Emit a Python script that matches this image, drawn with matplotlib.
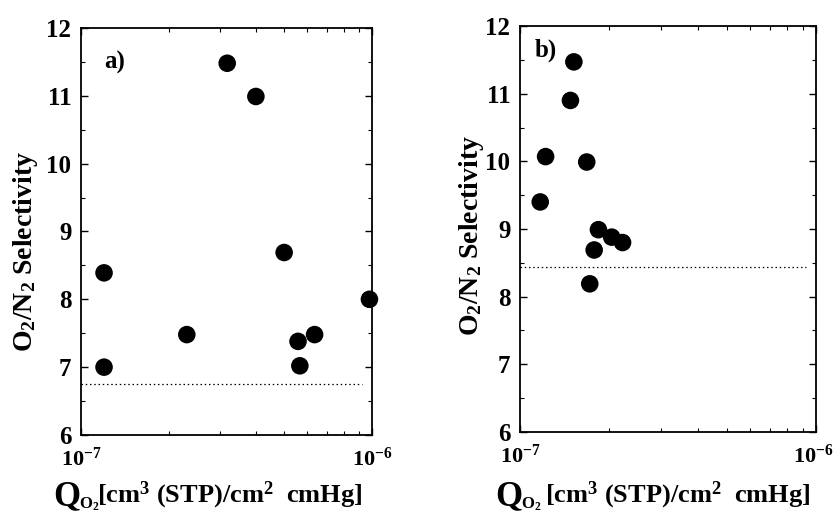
import matplotlib
matplotlib.use("Agg")
import matplotlib.pyplot as plt
import matplotlib.transforms as mtransforms
import numpy as np

plt.rcParams['font.family'] = ['Liberation Serif', 'DejaVu Serif']
plt.rcParams['font.weight'] = 'bold'
plt.rcParams['mathtext.fontset'] = 'custom'
plt.rcParams['mathtext.rm'] = 'Liberation Serif:bold'
plt.rcParams['mathtext.bf'] = 'Liberation Serif:bold'
plt.rcParams['mathtext.it'] = 'Liberation Serif:bold'

# Panel a data
qa = [1.20e-7, 1.20e-7, 2.31e-7, 3.18e-7, 3.99e-7, 4.99e-7, 5.57e-7, 5.65e-7, 6.35e-7, 9.8e-7]
sa = [8.39, 7.00, 7.48, 11.48, 10.99, 8.69, 7.38, 7.02, 7.48, 8.00]
ref_a = 6.75

# Panel b data
qb = [1.17e-7, 1.22e-7, 1.48e-7, 1.52e-7, 1.68e-7, 1.84e-7, 1.78e-7, 1.72e-7, 2.04e-7, 2.22e-7]
sb = [9.40, 10.07, 10.90, 11.47, 9.99, 8.99, 8.69, 8.19, 8.88, 8.80]
ref_b = 8.44

yticks = [6, 7, 8, 9, 10, 11, 12]
xticks = [1e-7, 1e-6]
xticklabels = [r'$10^{-7}$', r'$10^{-6}$']
ylabel_text = r'O$_2$/N$_2$ Selectivity'
xunit_text = '[cm$^3$ (STP)/cm$^2$  cmHg]'

W, H = 835, 516
fig = plt.figure(figsize=(W / 100, H / 100), dpi=100)
ax_a = fig.add_axes([0.097, 0.157, 0.3485, 0.7888])
ax_b = fig.add_axes([0.6228, 0.1628, 0.3545, 0.7868])


def px(x, y):
    return x / W, 1 - y / H


def style(ax, q, s, ref, tag, tagpos, ylab_pos, q_x, sub_x, unit_x):
    ax.scatter(q, s, s=160, color='black', zorder=3, edgecolors='none', clip_on=False)
    ax.axhline(ref, xmin=0.0, xmax=0.965, color='black', lw=0.9, ls=(0, (1.2, 2.2)))
    ax.set_xscale('log')
    ax.set_xlim(1e-7, 1e-6)
    ax.set_ylim(6, 12)
    ax.set_yticks(yticks)
    ax.set_yticklabels([str(t) for t in yticks], fontsize=18, fontweight='bold')
    ax.set_yticks(np.arange(6.5, 12, 1.0), minor=True)
    ax.set_xticks(xticks)
    ax.set_xticklabels(xticklabels, fontsize=16)
    ax.set_xticks([k * 1e-7 for k in range(2, 10)], minor=True)
    ax.xaxis.set_minor_formatter(matplotlib.ticker.NullFormatter())
    ax.tick_params(which='both', direction='in', top=True, right=True)
    ax.tick_params(which='major', length=5, width=1.0)
    ax.tick_params(which='minor', length=3, width=0.8)
    ax.tick_params(axis='x', pad=9)
    ax.tick_params(axis='y', pad=7)
    for sp in ax.spines.values():
        sp.set_linewidth(1.3)
    lab = ax.set_ylabel(ylabel_text, fontsize=20, fontweight='bold')
    lab.set_rotation_mode('default')
    lab.set_va('center')
    lab.set_ha('center')
    ax.yaxis.set_label_coords(*ylab_pos)
    ax.text(tagpos[0], tagpos[1], tag, transform=ax.transAxes, fontsize=18,
            fontweight='bold', ha='left', va='center')
    # x label pieces: large Q, small subscript O2, then bracketed unit
    fig.text(*px(q_x, 505), 'Q', fontsize=25, fontweight='bold', ha='left', va='baseline')
    fig.text(*px(sub_x, 509), r'O$_2$', fontsize=12, fontweight='bold', ha='left', va='baseline')
    fig.text(*px(unit_x, 502), xunit_text, fontsize=19, fontweight='bold',
             ha='left', va='baseline')


style(ax_a, qa, sa, ref_a, 'a)', (0.08, 0.915), (-0.192, 0.45), 53, 79, 97)
style(ax_b, qb, sb, ref_b, 'b)', (0.05, 0.94), (-0.165, 0.483), 495, 521, 545)

# nudge the right-most tick label of panel b slightly inward
last = ax_b.get_xticklabels()[-1]
last.set_transform(last.get_transform() + mtransforms.ScaledTranslation(-3 / 100, 0, fig.dpi_scale_trans))

fig.savefig('out.png', dpi=100)
